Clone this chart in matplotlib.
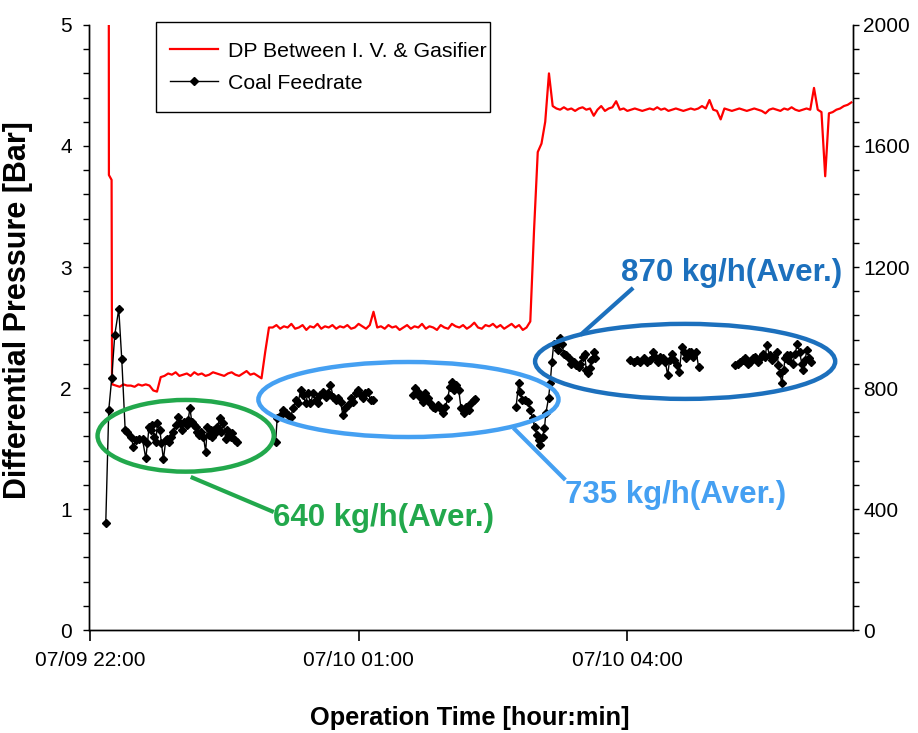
import numpy as np
import pandas as pd
import matplotlib
matplotlib.use("Agg")
import matplotlib.pyplot as plt
import matplotlib.dates as mdates
from matplotlib.patches import Ellipse, Rectangle
from matplotlib.ticker import MultipleLocator

plt.rcParams['font.family'] = ['Liberation Sans', 'DejaVu Sans']

start = pd.Timestamp("2009-07-09 22:00")

# DP between I.V. and gasifier [bar], minutes after 22:00
dp_head_min = [12.6, 12.8, 14.6, 14.9]
dp_head_bar = [8.0, 3.76, 3.72, 2.04]
dp_first_min = 15.0   # logged every 2.5 min from here on
dp_step_min = 2.5
dp_bar = [
    2.03, 2.02, 2.01, 2.03, 2.02, 2.02, 2.01, 2.03, 2.02, 2.03, 2.02,
    1.98, 1.97, 2.09,
    2.10, 2.12, 2.11, 2.13, 2.10, 2.11, 2.12, 2.10, 2.13, 2.11, 2.12, 2.10, 2.11, 2.13,
    2.12, 2.11, 2.10, 2.12, 2.13, 2.11, 2.10, 2.12, 2.14, 2.11, 2.12, 2.10, 2.08,
    2.30, 2.50,
    2.50, 2.52, 2.49, 2.51, 2.50, 2.53, 2.49, 2.50, 2.52, 2.48,
    2.51, 2.50, 2.53, 2.49, 2.51, 2.50, 2.52, 2.49, 2.51, 2.50,
    2.52, 2.49, 2.50, 2.53, 2.51, 2.49, 2.52, 2.63, 2.50, 2.51,
    2.49, 2.52, 2.50, 2.51, 2.48, 2.50, 2.52, 2.49, 2.51, 2.50,
    2.53, 2.49, 2.51, 2.50, 2.48, 2.52, 2.50, 2.49, 2.53, 2.51,
    2.50, 2.52, 2.49, 2.51, 2.54, 2.50, 2.49, 2.52, 2.51, 2.53,
    2.50, 2.52, 2.49, 2.51, 2.53, 2.50, 2.52, 2.48, 2.50,
    2.55, 3.30, 3.95, 4.02, 4.20, 4.60, 4.33,
    4.31, 4.30, 4.32, 4.30, 4.31, 4.29, 4.31, 4.32, 4.30, 4.31,
    4.25, 4.30, 4.33, 4.29, 4.31, 4.32, 4.37, 4.30, 4.31, 4.29,
    4.30, 4.31, 4.30, 4.29, 4.30, 4.31, 4.30, 4.32, 4.30, 4.31,
    4.29, 4.30, 4.31, 4.30, 4.29, 4.30, 4.31, 4.30, 4.31, 4.33,
    4.31, 4.38, 4.30, 4.29, 4.22, 4.31, 4.30, 4.29, 4.30, 4.31,
    4.30, 4.29, 4.30, 4.31, 4.30, 4.29, 4.27, 4.30, 4.31, 4.30,
    4.29, 4.31, 4.30, 4.32, 4.30, 4.29, 4.30, 4.31, 4.30,
    4.48, 4.30, 4.28, 3.75, 4.27, 4.28, 4.30, 4.31, 4.33, 4.34, 4.36,
]

# coal feedrate [kg/h], minutes after 22:00 (nan = no record)
coal_min = [
    10.7, 12.7, 14.7, 16.7, 19.4, 21.4,
    23.7, 25.2, 27.5, 29.2, 30.8, 33.0, 35.3, 37.5, 38.6, 39.7, 40.8, 41.9, 43.1, 44.2,
    45.3, 46.9, 48.0, 49.3, 50.9, 52.0, 53.1, 54.2, 56.0, 57.6, 59.1, 60.2, 62.0, 63.1,
    64.9, 65.8, 67.1, 68.3, 69.8, 70.9, 72.0, 73.4, 74.7, 76.1, 77.6, 78.7, 79.9, 81.0,
    82.1, 83.2, 84.3, 85.4, 87.0, 88.1, 89.4, 91.0, 92.1, 93.2, 94.4, 95.5, 97.2, 98.4,
    110.0,
    124.4, 125.5, 127.8, 129.6, 131.1, 132.7, 134.5, 136.2, 137.8, 139.4, 141.2, 142.9,
    144.5, 146.1, 147.8, 149.6, 151.2, 153.0, 154.5, 156.3, 157.9, 159.4, 161.2, 163.0,
    164.6, 166.1, 167.9, 169.5, 171.0, 172.8, 174.6, 176.4, 178.2, 179.7, 181.3, 183.1,
    184.6, 186.2, 188.0, 189.8,
    200.0,
    216.5, 218.1, 219.6, 221.4, 223.2, 224.8, 226.3, 228.1, 229.9, 231.5, 233.0, 234.8,
    236.6, 238.2, 239.7, 241.1, 242.6, 244.2, 245.5, 247.1, 248.6, 250.4, 252.2, 253.8,
    255.3, 257.1, 258.2,
    270.0,
    285.5, 287.2, 288.3, 289.4, 291.6, 293.8, 295.0, 296.5, 297.9, 299.4, 301.0, 301.7,
    303.2, 304.5, 305.4, 307.2, 308.3, 309.5, 310.7, 312.5, 313.4, 314.7, 316.3, 317.4,
    318.9, 320.7, 322.3, 324.1, 325.8, 327.4, 328.5, 330.3, 331.4, 332.5, 333.6, 334.8,
    335.9, 337.4, 338.6,
    350.0,
    362.0, 364.2, 366.4, 368.7, 370.9, 373.1, 375.4, 377.1, 378.7, 380.3, 382.0, 383.8,
    385.4, 387.0, 388.3, 389.8, 391.4, 393.2, 394.8, 396.5, 398.1, 399.4, 401.0, 402.6,
    404.3, 406.1, 407.7,
    420.0,
    432.2, 433.8, 435.6, 437.3, 438.9, 440.5, 442.3, 444.0, 445.6, 447.2, 448.9, 450.7,
    452.3, 453.4, 455.2, 456.7, 458.3, 460.1, 461.2, 462.3, 463.4, 464.6, 465.7, 466.8,
    467.9, 469.0, 470.8, 472.4, 473.9, 475.3, 476.8, 477.9, 479.0, 480.2, 481.9, 482.8,
]
coal_kgh = [
    354, 727, 833, 975, 1061, 896,
    661, 655, 639, 606, 628, 630, 630, 567, 617, 672, 661, 677, 639, 622,
    683, 661, 617, 564, 628, 633, 622, 639, 655, 677, 705, 683, 661, 688,
    677, 694, 733, 688, 677, 672, 655, 644, 655, 639, 589, 672, 644, 661,
    639, 661, 655, 672, 700, 655, 683, 633, 661, 644, 639, 650, 628, 622,
    np.nan,
    620, 700, 711, 727, 716, 711, 705, 733, 760, 749, 793, 777,
    749, 782, 749, 782, 760, 749, 777, 788, 771, 782, 810, 771,
    760, 766, 755, 711, 733, 744, 766, 755, 782, 793, 777, 766,
    782, 788, 760, 760,
    np.nan,
    777, 799, 788, 771, 755, 782, 766, 749, 738, 733, 744, 733,
    716, 738, 766, 804, 821, 793, 810, 793, 733, 716, 738, 727,
    749, 760, 763,
    np.nan,
    738, 815, 788, 760, 760, 754, 727, 700, 672, 645, 628, 612,
    639, 667, 716, 766, 815, 887, 947, 942, 925, 964, 947, 914,
    909, 898, 881, 887, 876, 870, 881, 903, 914, 859, 848, 865,
    892, 920, 900,
    np.nan,
    892, 887, 892, 887, 898, 887, 892, 920, 903, 887, 903, 898,
    887, 843, 892, 914, 892, 876, 854, 936, 920, 898, 920, 920,
    903, 920, 870,
    np.nan,
    876, 881, 887, 892, 898, 881, 887, 898, 903, 887, 898, 914,
    903, 942, 909, 892, 903, 920, 876, 848, 815, 859, 898, 909,
    892, 909, 881, 914, 947, 920, 881, 859, 892, 925, 898, 887,
]

# circled groups: centre (min, kg/h), size (min, kg/h), colour
group_center_min = [64.2, 213.4, 398.7]
group_center_kgh = [642, 762, 888]
group_width_min = [118, 201, 201]
group_height_kgh = [237, 248, 248]
group_colors = ['#22a84c', '#45a0f2', '#1c70bd']
group_labels = ['640 kg/h(Aver.)', '735 kg/h(Aver.)', '870 kg/h(Aver.)']
# leader lines and label anchor (min, kg/h)
leader_min = [(67.6, 123.2), (283.7, 318.5), (328.5, 363.9)]
leader_kgh = [(506, 390), (668, 496), (975, 1131)]
label_min = [122.5, 318.0, 355.5]
label_kgh = [370, 446, 1180]


def at(m):
    return mdates.date2num(start.to_pydatetime()) + np.asarray(m, float) / 1440.0


fig = plt.figure(figsize=(9.18, 7.33), dpi=100)
ax = fig.add_axes([0.097, 0.1405, 0.832, 0.8254])
ax2 = ax.twinx()

dp_min = np.concatenate([dp_head_min, dp_first_min + dp_step_min * np.arange(len(dp_bar))])
dp_all = np.concatenate([dp_head_bar, dp_bar])
l1, = ax.plot(at(dp_min), dp_all, color='#ff0000', lw=1.6, label='DP Between I. V. & Gasifier')
l2, = ax2.plot(at(coal_min), coal_kgh, color='black', lw=1.0, marker='D', ms=3.8,
               label='Coal Feedrate')

for i in range(3):
    e = Ellipse((at(group_center_min[i]), group_center_kgh[i]),
                width=group_width_min[i] / 1440.0, height=group_height_kgh[i],
                fill=False, edgecolor=group_colors[i], lw=3.2, zorder=5)
    ax2.add_patch(e)
    ax2.plot(at(leader_min[i]), leader_kgh[i], color=group_colors[i], lw=3.0, zorder=5,
             solid_capstyle='butt')
    ax2.text(at(label_min[i]), label_kgh[i], group_labels[i], color=group_colors[i],
             fontsize=22.5, fontweight='bold', ha='left', va='center', zorder=6)

ax.set_xlim(at(-0.5), at(511))
ax.set_ylim(0, 5)
ax2.set_ylim(0, 2000)
ax.set_xticks(at([0, 180, 360]))
ax.xaxis.set_major_formatter(mdates.DateFormatter('%m/%d %H:%M'))
ax.yaxis.set_major_locator(MultipleLocator(1))
ax.yaxis.set_minor_locator(MultipleLocator(0.2))
ax2.yaxis.set_major_locator(MultipleLocator(400))
ax2.yaxis.set_minor_locator(MultipleLocator(80))

for a in (ax, ax2):
    a.spines['top'].set_visible(False)
    for s in a.spines.values():
        s.set_linewidth(1.0)
ax.tick_params(axis='y', which='both', direction='out', length=4.5, width=1,
               labelsize=15, pad=8)
ax.tick_params(axis='x', direction='out', length=8, width=1.2, labelsize=15, pad=7)
ax2.tick_params(axis='y', which='both', direction='out', length=4.5, width=1,
                labelsize=15, pad=3)

ax.set_ylabel('Differential Pressure [Bar]', fontsize=22, fontweight='bold')
ax.yaxis.set_label_coords(-0.0733, 0.529)
ax.set_xlabel('Operation Time [hour:min]', fontsize=18.3, fontweight='bold')
ax.xaxis.set_label_coords(0.499, -0.1256)

# legend box drawn separately: more padding above/below than at the sides
frame = Rectangle((0.0877, 0.856), 0.4372, 0.149, transform=ax2.transAxes,
                  facecolor='white', edgecolor='black', lw=1.0, clip_on=False, zorder=9)
ax2.add_patch(frame)
leg = ax2.legend([l1, l2], [l1.get_label(), l2.get_label()], loc='upper left',
                 bbox_to_anchor=(0.106, 0.972), fontsize=15.3, frameon=False,
                 borderaxespad=0, borderpad=0, handlelength=2.26, handletextpad=0.45,
                 labelspacing=0.6)
leg.set_zorder(10)

fig.savefig('out.png', dpi=100)
